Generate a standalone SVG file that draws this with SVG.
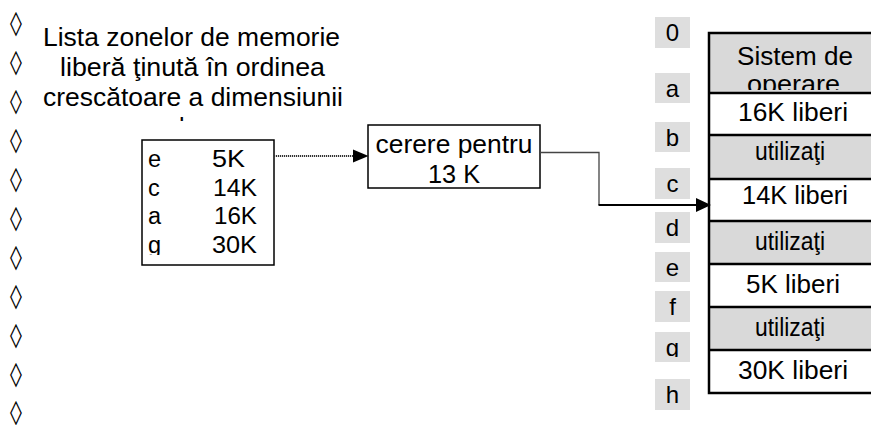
<svg xmlns="http://www.w3.org/2000/svg" width="871" height="425" viewBox="0 0 871 425">
<style>
text{font-family:"Liberation Sans",Arial,sans-serif;fill:#000}
.t{font-size:25px;text-anchor:middle}
.b{font-size:24px;font-family:"DejaVu Sans",sans-serif;text-anchor:middle}
.l{font-size:23.5px}
.m{font-size:25px;text-anchor:middle}
.lab{font-size:24px;text-anchor:middle}
.box{fill:#fff;stroke:#000;stroke-width:1.5}
.used{fill:#d9d9d9;stroke:none}
.free{fill:#fff;stroke:none}
.sep{stroke:#000;stroke-width:2.5;fill:none}
.tag{fill:#dedede}
</style>
<defs>
<clipPath id="ctitle"><rect x="0" y="0" width="400" height="121"/></clipPath>
<clipPath id="clist"><rect x="142" y="141" width="132" height="114"/></clipPath>
<clipPath id="cos"><rect x="709" y="34" width="170" height="56"/></clipPath>
<clipPath id="cg"><rect x="655" y="330" width="35" height="27"/></clipPath>
</defs>

<g id="bullets">
<text class="b" x="16" y="31">◊</text>
<text class="b" x="16" y="70">◊</text>
<text class="b" x="16" y="109">◊</text>
<text class="b" x="16" y="148">◊</text>
<text class="b" x="16" y="187">◊</text>
<text class="b" x="16" y="226">◊</text>
<text class="b" x="16" y="265">◊</text>
<text class="b" x="16" y="304">◊</text>
<text class="b" x="16" y="343">◊</text>
<text class="b" x="16" y="382">◊</text>
<text class="b" x="16" y="420">◊</text>
</g>

<g id="title" clip-path="url(#ctitle)">
<text class="t" x="191.5" y="46" textLength="297" lengthAdjust="spacingAndGlyphs">Lista zonelor de memorie</text>
<text class="t" x="192.5" y="76" textLength="265" lengthAdjust="spacingAndGlyphs">liberă ţinută în ordinea</text>
<text class="t" x="193" y="106" textLength="300" lengthAdjust="spacingAndGlyphs">crescătoare a dimensiunii</text>
<text class="t" x="193" y="136">lor</text>
</g>

<g id="freelist">
<rect class="box" x="142" y="140" width="132" height="125"/>
<g clip-path="url(#clist)">
<text class="l" x="148" y="167">e</text>
<text class="l" x="212" y="167" textLength="33" lengthAdjust="spacingAndGlyphs">5K</text>
<text class="l" x="148" y="195.5">c</text>
<text class="l" x="213" y="195.5" textLength="44" lengthAdjust="spacingAndGlyphs">14K</text>
<text class="l" x="148" y="224">a</text>
<text class="l" x="214" y="224" textLength="43" lengthAdjust="spacingAndGlyphs">16K</text>
<text class="l" x="148" y="252.5">g</text>
<text class="l" x="212" y="252.5" textLength="45" lengthAdjust="spacingAndGlyphs">30K</text>
</g>
</g>

<g id="request">
<rect class="box" x="368" y="125" width="172" height="63"/>
<text class="m" x="454" y="152.5" textLength="157" lengthAdjust="spacingAndGlyphs">cerere pentru</text>
<text class="m" x="454" y="182.5" textLength="52" lengthAdjust="spacingAndGlyphs">13 K</text>
</g>

<g id="tags">
<rect class="tag" x="655" y="17" width="35" height="31"/><text class="lab" x="672.5" y="40.5">0</text>
<rect class="tag" x="655" y="73" width="35" height="30"/><text class="lab" x="672.5" y="96.5">a</text>
<rect class="tag" x="655" y="122" width="35" height="30"/><text class="lab" x="672.5" y="145.5">b</text>
<rect class="tag" x="655" y="168" width="35" height="31"/><text class="lab" x="672.5" y="191.5">c</text>
<rect class="tag" x="655" y="212" width="35" height="31"/><text class="lab" x="672.5" y="235.5">d</text>
<rect class="tag" x="655" y="252" width="35" height="30"/><text class="lab" x="672.5" y="275.5">e</text>
<rect class="tag" x="655" y="291" width="35" height="31"/><text class="lab" x="672.5" y="314.5">f</text>
<rect class="tag" x="655" y="332" width="35" height="30"/><text class="lab" x="672.5" y="355.5" clip-path="url(#cg)">g</text>
<rect class="tag" x="655" y="379" width="35" height="31"/><text class="lab" x="672.5" y="402.5">h</text>
</g>

<g id="memory">
<rect class="used" x="709" y="33" width="170" height="60"/>
<rect class="free" x="709" y="93" width="170" height="42"/>
<rect class="used" x="709" y="135" width="170" height="44"/>
<rect class="free" x="709" y="179" width="170" height="42"/>
<rect class="used" x="709" y="221" width="170" height="43"/>
<rect class="free" x="709" y="264" width="170" height="43"/>
<rect class="used" x="709" y="307" width="170" height="43"/>
<rect class="free" x="709" y="350" width="170" height="43"/>
<path class="sep" d="M880,33 H709 V393 H880 M709,93 H880 M709,135 H880 M709,179 H880 M709,221 H880 M709,264 H880 M709,307 H880 M709,350 H880"/>
<text class="m" x="795" y="65" textLength="116" lengthAdjust="spacingAndGlyphs">Sistem de</text>
<text class="m" x="793.5" y="93" textLength="93" lengthAdjust="spacingAndGlyphs" clip-path="url(#cos)">operare</text>
<text class="m" x="793" y="120.5" textLength="110" lengthAdjust="spacingAndGlyphs">16K liberi</text>
<text class="m" x="790" y="160" textLength="70" lengthAdjust="spacingAndGlyphs">utilizaţi</text>
<text class="m" x="795" y="204" textLength="106" lengthAdjust="spacingAndGlyphs">14K liberi</text>
<text class="m" x="790" y="250" textLength="70" lengthAdjust="spacingAndGlyphs">utilizaţi</text>
<text class="m" x="793" y="293" textLength="94" lengthAdjust="spacingAndGlyphs">5K liberi</text>
<text class="m" x="790" y="335.5" textLength="70" lengthAdjust="spacingAndGlyphs">utilizaţi</text>
<text class="m" x="793" y="378.5" textLength="110" lengthAdjust="spacingAndGlyphs">30K liberi</text>
</g>

<g id="connectors">
<line x1="274" y1="156" x2="354" y2="156" stroke="#333" stroke-width="2" stroke-dasharray="1.2 0.8"/>
<polygon points="353,149.5 368.5,156 353,162.5" fill="#000"/>
<polyline points="540,152.5 599,152.5 599,205" fill="none" stroke="#444" stroke-width="1.3"/>
<line x1="598.5" y1="205" x2="697" y2="205" stroke="#000" stroke-width="2"/>
<polygon points="696,198 711,205 696,212" fill="#000"/>
</g>
</svg>
